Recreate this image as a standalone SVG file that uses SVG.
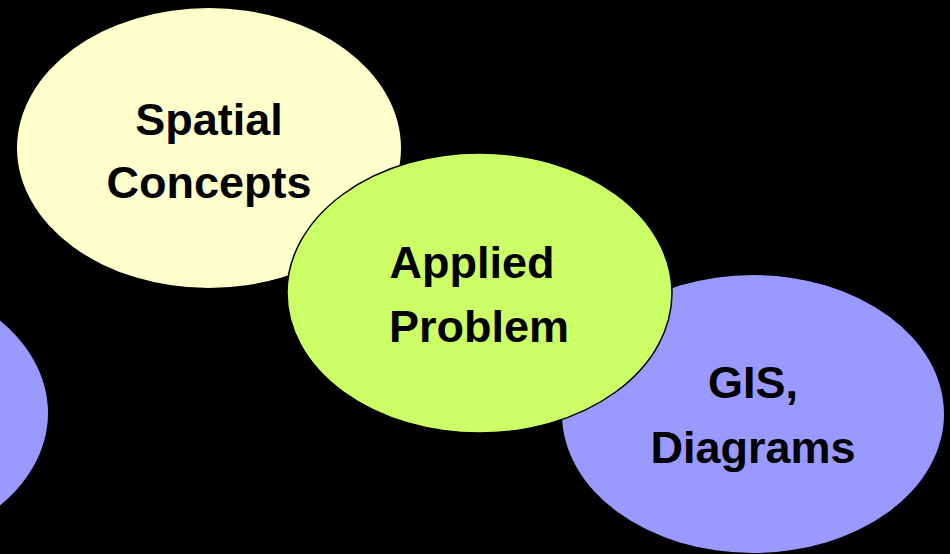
<svg xmlns="http://www.w3.org/2000/svg" width="950" height="554" viewBox="0 0 950 554">
<style>
.lbl{font-family:"Liberation Sans",Arial,sans-serif;font-weight:bold;font-size:45px;fill:#000;text-anchor:middle}
.yel{fill:#FFFFCC}
.grn{fill:#CCFF66;stroke:#000;stroke-width:1.5}
.pur{fill:#9999FF}
</style>
<rect width="950" height="554" fill="#000"/>
<g id="node-left"><ellipse class="pur" cx="-144" cy="413" rx="192" ry="140"/></g>
<g id="node-spatial"><ellipse class="yel" cx="209" cy="148" rx="192" ry="140"/>
<text class="lbl" x="209" y="135">Spatial</text><text class="lbl" x="209" y="198">Concepts</text></g>
<g id="node-gis"><ellipse class="pur" cx="753" cy="414" rx="191" ry="139"/>
<text class="lbl" x="753" y="398">GIS,</text><text class="lbl" x="753" y="463">Diagrams</text></g>
<g id="node-applied"><ellipse class="grn" cx="479.5" cy="293" rx="192.5" ry="140"/>
<text class="lbl" x="472" y="278">Applied</text><text class="lbl" x="479" y="342">Problem</text></g>
<g id="connectors"/>
</svg>
